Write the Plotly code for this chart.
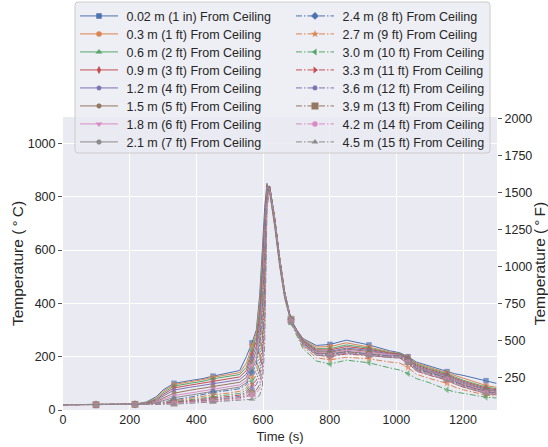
import plotly.graph_objects as go

# ---------------- data ----------------
TIME = [0, 99, 216, 250, 280, 300, 333, 380, 420, 450, 500, 530, 550, 567, 580, 590, 598, 605, 612, 620,
        635, 650, 665, 684, 720, 760, 801, 850, 918, 980, 1010, 1035, 1060, 1100, 1152, 1175, 1200, 1269, 1300]
MARKER_TIMES = [99, 216, 333, 450, 567, 684, 801, 918, 1035, 1152, 1269]

LABELS = [
    "0.02 m (1 in) From Ceiling", "0.3 m (1 ft) From Ceiling", "0.6 m (2 ft) From Ceiling",
    "0.9 m (3 ft) From Ceiling", "1.2 m (4 ft) From Ceiling", "1.5 m (5 ft) From Ceiling",
    "1.8 m (6 ft) From Ceiling", "2.1 m (7 ft) From Ceiling", "2.4 m (8 ft) From Ceiling",
    "2.7 m (9 ft) From Ceiling", "3.0 m (10 ft) From Ceiling", "3.3 m (11 ft) From Ceiling",
    "3.6 m (12 ft) From Ceiling", "3.9 m (13 ft) From Ceiling", "4.2 m (14 ft) From Ceiling",
    "4.5 m (15 ft) From Ceiling",
]

temp_0_02m = [20, 20, 22, 30, 50, 75, 100, 110, 118, 127, 140, 148, 200, 252, 300, 430, 600, 760, 850, 815,
              690, 540, 420, 330, 268, 242, 246, 262, 244, 222, 215, 200, 180, 165, 144, 136, 130, 110, 100]
temp_0_3m = [20, 20, 22, 28, 45, 70, 95, 106, 114, 123, 134, 140, 175, 242, 290, 400, 570, 740, 848, 822,
             695, 545, 425, 332, 265, 236, 238, 252, 236, 218, 212, 198, 176, 160, 140, 130, 120, 92, 85]
temp_0_6m = [20, 20, 22, 27, 42, 64, 90, 100, 108, 117, 127, 133, 160, 225, 275, 375, 540, 720, 845, 828,
             700, 550, 428, 334, 262, 230, 230, 244, 232, 215, 212, 197, 172, 156, 136, 124, 112, 86, 80]
temp_0_9m = [20, 20, 21, 25, 38, 58, 83, 93, 101, 109, 118, 124, 148, 210, 258, 350, 510, 700, 842, 832,
             705, 555, 432, 336, 260, 226, 225, 238, 228, 213, 210, 194, 168, 152, 132, 120, 108, 82, 76]
temp_1_2m = [20, 20, 21, 24, 34, 52, 75, 85, 93, 100, 108, 114, 135, 195, 240, 325, 480, 680, 840, 835,
             710, 560, 435, 338, 258, 222, 220, 232, 224, 210, 208, 192, 164, 148, 129, 116, 104, 78, 72]
temp_1_5m = [20, 20, 21, 23, 30, 45, 63, 74, 82, 90, 98, 104, 122, 180, 222, 300, 450, 655, 836, 838,
             712, 562, 438, 338, 256, 219, 216, 228, 220, 208, 206, 190, 160, 145, 126, 112, 100, 75, 69]
temp_1_8m = [20, 20, 21, 22, 28, 40, 54, 64, 72, 80, 88, 94, 111, 166, 205, 280, 420, 630, 832, 840,
             715, 565, 440, 340, 254, 216, 212, 224, 216, 206, 205, 188, 158, 142, 124, 110, 97, 72, 66]
temp_2_1m = [20, 20, 21, 22, 26, 35, 46, 56, 64, 72, 80, 86, 102, 152, 188, 260, 390, 600, 828, 840,
             718, 568, 442, 340, 252, 214, 210, 220, 213, 204, 204, 186, 156, 140, 122, 108, 95, 70, 64]
temp_2_4m = [20, 20, 21, 22, 25, 31, 38, 48, 57, 66, 74, 80, 95, 140, 172, 240, 360, 570, 824, 840,
             720, 570, 444, 340, 250, 212, 208, 218, 210, 202, 202, 184, 154, 138, 120, 106, 93, 68, 62]
temp_2_7m = [20, 20, 21, 22, 24, 28, 34, 42, 50, 57, 64, 70, 83, 122, 150, 210, 320, 530, 818, 838,
             722, 572, 444, 330, 238, 196, 188, 198, 192, 180, 176, 160, 134, 118, 100, 86, 76, 56, 52]
temp_3_0m = [20, 20, 21, 21, 23, 26, 31, 37, 44, 50, 57, 62, 74, 108, 130, 180, 280, 490, 812, 836,
             722, 570, 440, 325, 230, 184, 172, 187, 177, 158, 150, 137, 118, 102, 76, 68, 62, 48, 45]
temp_3_3m = [20, 20, 21, 21, 22, 25, 29, 34, 40, 45, 51, 56, 66, 94, 112, 150, 240, 450, 805, 834,
             722, 568, 436, 338, 246, 206, 200, 210, 203, 196, 195, 176, 146, 130, 112, 98, 86, 62, 57]
temp_3_6m = [20, 20, 21, 21, 22, 24, 27, 31, 36, 40, 46, 51, 60, 80, 95, 125, 200, 400, 798, 832,
             722, 568, 438, 332, 244, 206, 202, 214, 206, 198, 198, 180, 150, 134, 116, 102, 90, 66, 60]
temp_3_9m = [20, 20, 21, 21, 22, 23, 26, 29, 33, 37, 42, 46, 53, 63, 75, 95, 160, 350, 790, 830,
             720, 570, 442, 340, 250, 212, 208, 218, 210, 200, 200, 182, 152, 136, 118, 104, 92, 68, 62]
temp_4_2m = [20, 20, 21, 21, 22, 23, 25, 28, 31, 34, 38, 42, 48, 56, 65, 80, 130, 300, 780, 828,
             718, 566, 438, 334, 246, 208, 205, 215, 207, 198, 198, 180, 150, 134, 116, 102, 90, 66, 60]
temp_4_5m = [20, 20, 20, 21, 21, 22, 22, 25, 28, 30, 33, 35, 37, 40, 45, 55, 90, 240, 760, 820,
             712, 560, 432, 330, 242, 205, 204, 212, 205, 196, 195, 176, 147, 131, 112, 98, 86, 62, 57]

SERIES = [temp_0_02m, temp_0_3m, temp_0_6m, temp_0_9m, temp_1_2m, temp_1_5m, temp_1_8m, temp_2_1m,
          temp_2_4m, temp_2_7m, temp_3_0m, temp_3_3m, temp_3_6m, temp_3_9m, temp_4_2m, temp_4_5m]

Y_TICKS_C = [0, 200, 400, 600, 800, 1000]
Y_TICKS_F = [250, 500, 750, 1000, 1250, 1500, 1750, 2000]
X_TICKS = [0, 200, 400, 600, 800, 1000, 1200]

# ---------------- styles ----------------
PALETTE = ["#4C72B0", "#DD8452", "#55A868", "#C44E52", "#8172B3", "#937860", "#DA8BC3", "#8C8C8C"]
SYMBOLS = ["square", "circle", "triangle-up", "diamond-tall", "pentagon", "hexagon", "triangle-down", "octagon",
           "diamond", "star", "triangle-left", "triangle-right", "hexagon2", "square", "circle", "triangle-up"]
MSIZE = [5.5, 5.5, 6, 6, 5.5, 5.5, 6, 5.5, 6, 6, 6, 6, 5.5, 7, 5.5, 6]
DASHDOT = "6px,2px,1.5px,2px"

W, H = 548, 447
L, R, T, B = 63, 51, 117, 37
PW, PH = W - L - R, H - T - B
X_MAX = 1302
Y_MAX = 1099
TXT = "#262626"
FONT = "Liberation Sans"
ITEMW = 38


def xp(px):
    return (px - L) / PW


def yp(py):
    return (H - B - py) / PH


fig = go.Figure()
marker_idx = [TIME.index(t) for t in MARKER_TIMES]

for k, (lab, vals) in enumerate(zip(LABELS, SERIES)):
    color = PALETTE[k % 8]
    dash = "solid" if k < 8 else DASHDOT
    sizes = [MSIZE[k] if i in marker_idx else 0 for i in range(len(TIME))]
    fig.add_trace(go.Scatter(
        x=TIME, y=vals, mode="lines+markers", name=lab, showlegend=False,
        line=dict(color=color, width=1, dash=dash),
        marker=dict(symbol=SYMBOLS[k], size=sizes, color=color, line=dict(width=0)),
        hoverinfo="skip"))

# legend entries (each entry in its own legend so rows match exactly)
layout_legends = {}
for k, lab in enumerate(LABELS):
    color = PALETTE[k % 8]
    dash = "solid" if k < 8 else DASHDOT
    lname = "legend" if k == 0 else f"legend{k + 1}"
    fig.add_trace(go.Scatter(
        x=[None], y=[None], mode="lines+markers", name="\u00a0" + lab, legend=lname,
        line=dict(color=color, width=1, dash=dash),
        marker=dict(symbol=SYMBOLS[k], size=MSIZE[k], color=color, line=dict(width=0))))
    row, col = k % 8, k // 8
    x_line = 80 if col == 0 else 296
    y_row = 16.3 + 18 * row
    layout_legends[lname] = dict(
        x=xp(x_line - 5), y=yp(y_row), xanchor="left", yanchor="middle",
        bgcolor="rgba(0,0,0,0)", borderwidth=0, itemwidth=ITEMW,
        font=dict(family=FONT, size=12.5, color=TXT))

# invisible trace for the Fahrenheit axis
fig.add_trace(go.Scatter(x=[None], y=[None], yaxis="y2", showlegend=False, hoverinfo="skip"))

# legend frame
x0, x1 = xp(75), xp(490)
y0, y1 = yp(153), yp(2)
rx, ry = 3 / PW, 3 / PH
frame = (f"M{x0 + rx},{y1} L{x1 - rx},{y1} Q{x1},{y1} {x1},{y1 - ry} L{x1},{y0 + ry} "
         f"Q{x1},{y0} {x1 - rx},{y0} L{x0 + rx},{y0} Q{x0},{y0} {x0},{y0 + ry} "
         f"L{x0},{y1 - ry} Q{x0},{y1} {x0 + rx},{y1} Z")

fig.update_layout(
    width=W, height=H,
    margin=dict(l=L, r=R, t=T, b=B, pad=0, autoexpand=False),
    paper_bgcolor="white", plot_bgcolor="#EAEAF2",
    font=dict(family=FONT, size=12.5, color=TXT),
    shapes=[dict(type="path", path=frame, xref="paper", yref="paper", layer="above",
                 fillcolor="rgba(234,234,242,0.8)", line=dict(color="#CCCCCC", width=1))],
    xaxis=dict(range=[0, X_MAX], tickvals=X_TICKS, showgrid=True, gridcolor="white", gridwidth=1,
               zeroline=False, showline=False, ticks="", automargin=False,
               title=dict(text="Time (s)", font=dict(size=13, color=TXT), standoff=6),
               tickfont=dict(size=12.5, color=TXT)),
    yaxis=dict(range=[0, Y_MAX], tickvals=Y_TICKS_C, showgrid=True, gridcolor="white", gridwidth=1,
               zeroline=False, showline=False, ticks="outside", ticklen=4, tickcolor="#555555",
               automargin=False,
               title=dict(text="Temperature (\u2009°\u2009C)", font=dict(size=15.5, color=TXT), standoff=0),
               tickfont=dict(size=12.5, color=TXT)),
    yaxis2=dict(range=[32, 32 + 1.8 * Y_MAX], tickvals=Y_TICKS_F, overlaying="y", side="right",
                showgrid=False, zeroline=False, showline=False, ticks="outside", ticklen=4,
                tickcolor="#555555", automargin=False,
                title=dict(text="Temperature (\u2009°\u2009F)", font=dict(size=15.5, color=TXT), standoff=6),
                tickfont=dict(size=12.5, color=TXT)),
    **layout_legends,
)

fig.write_html("out.html", config={"displayModeBar": False},
               post_script="document.body.style.margin='0';document.body.style.padding='0';")
